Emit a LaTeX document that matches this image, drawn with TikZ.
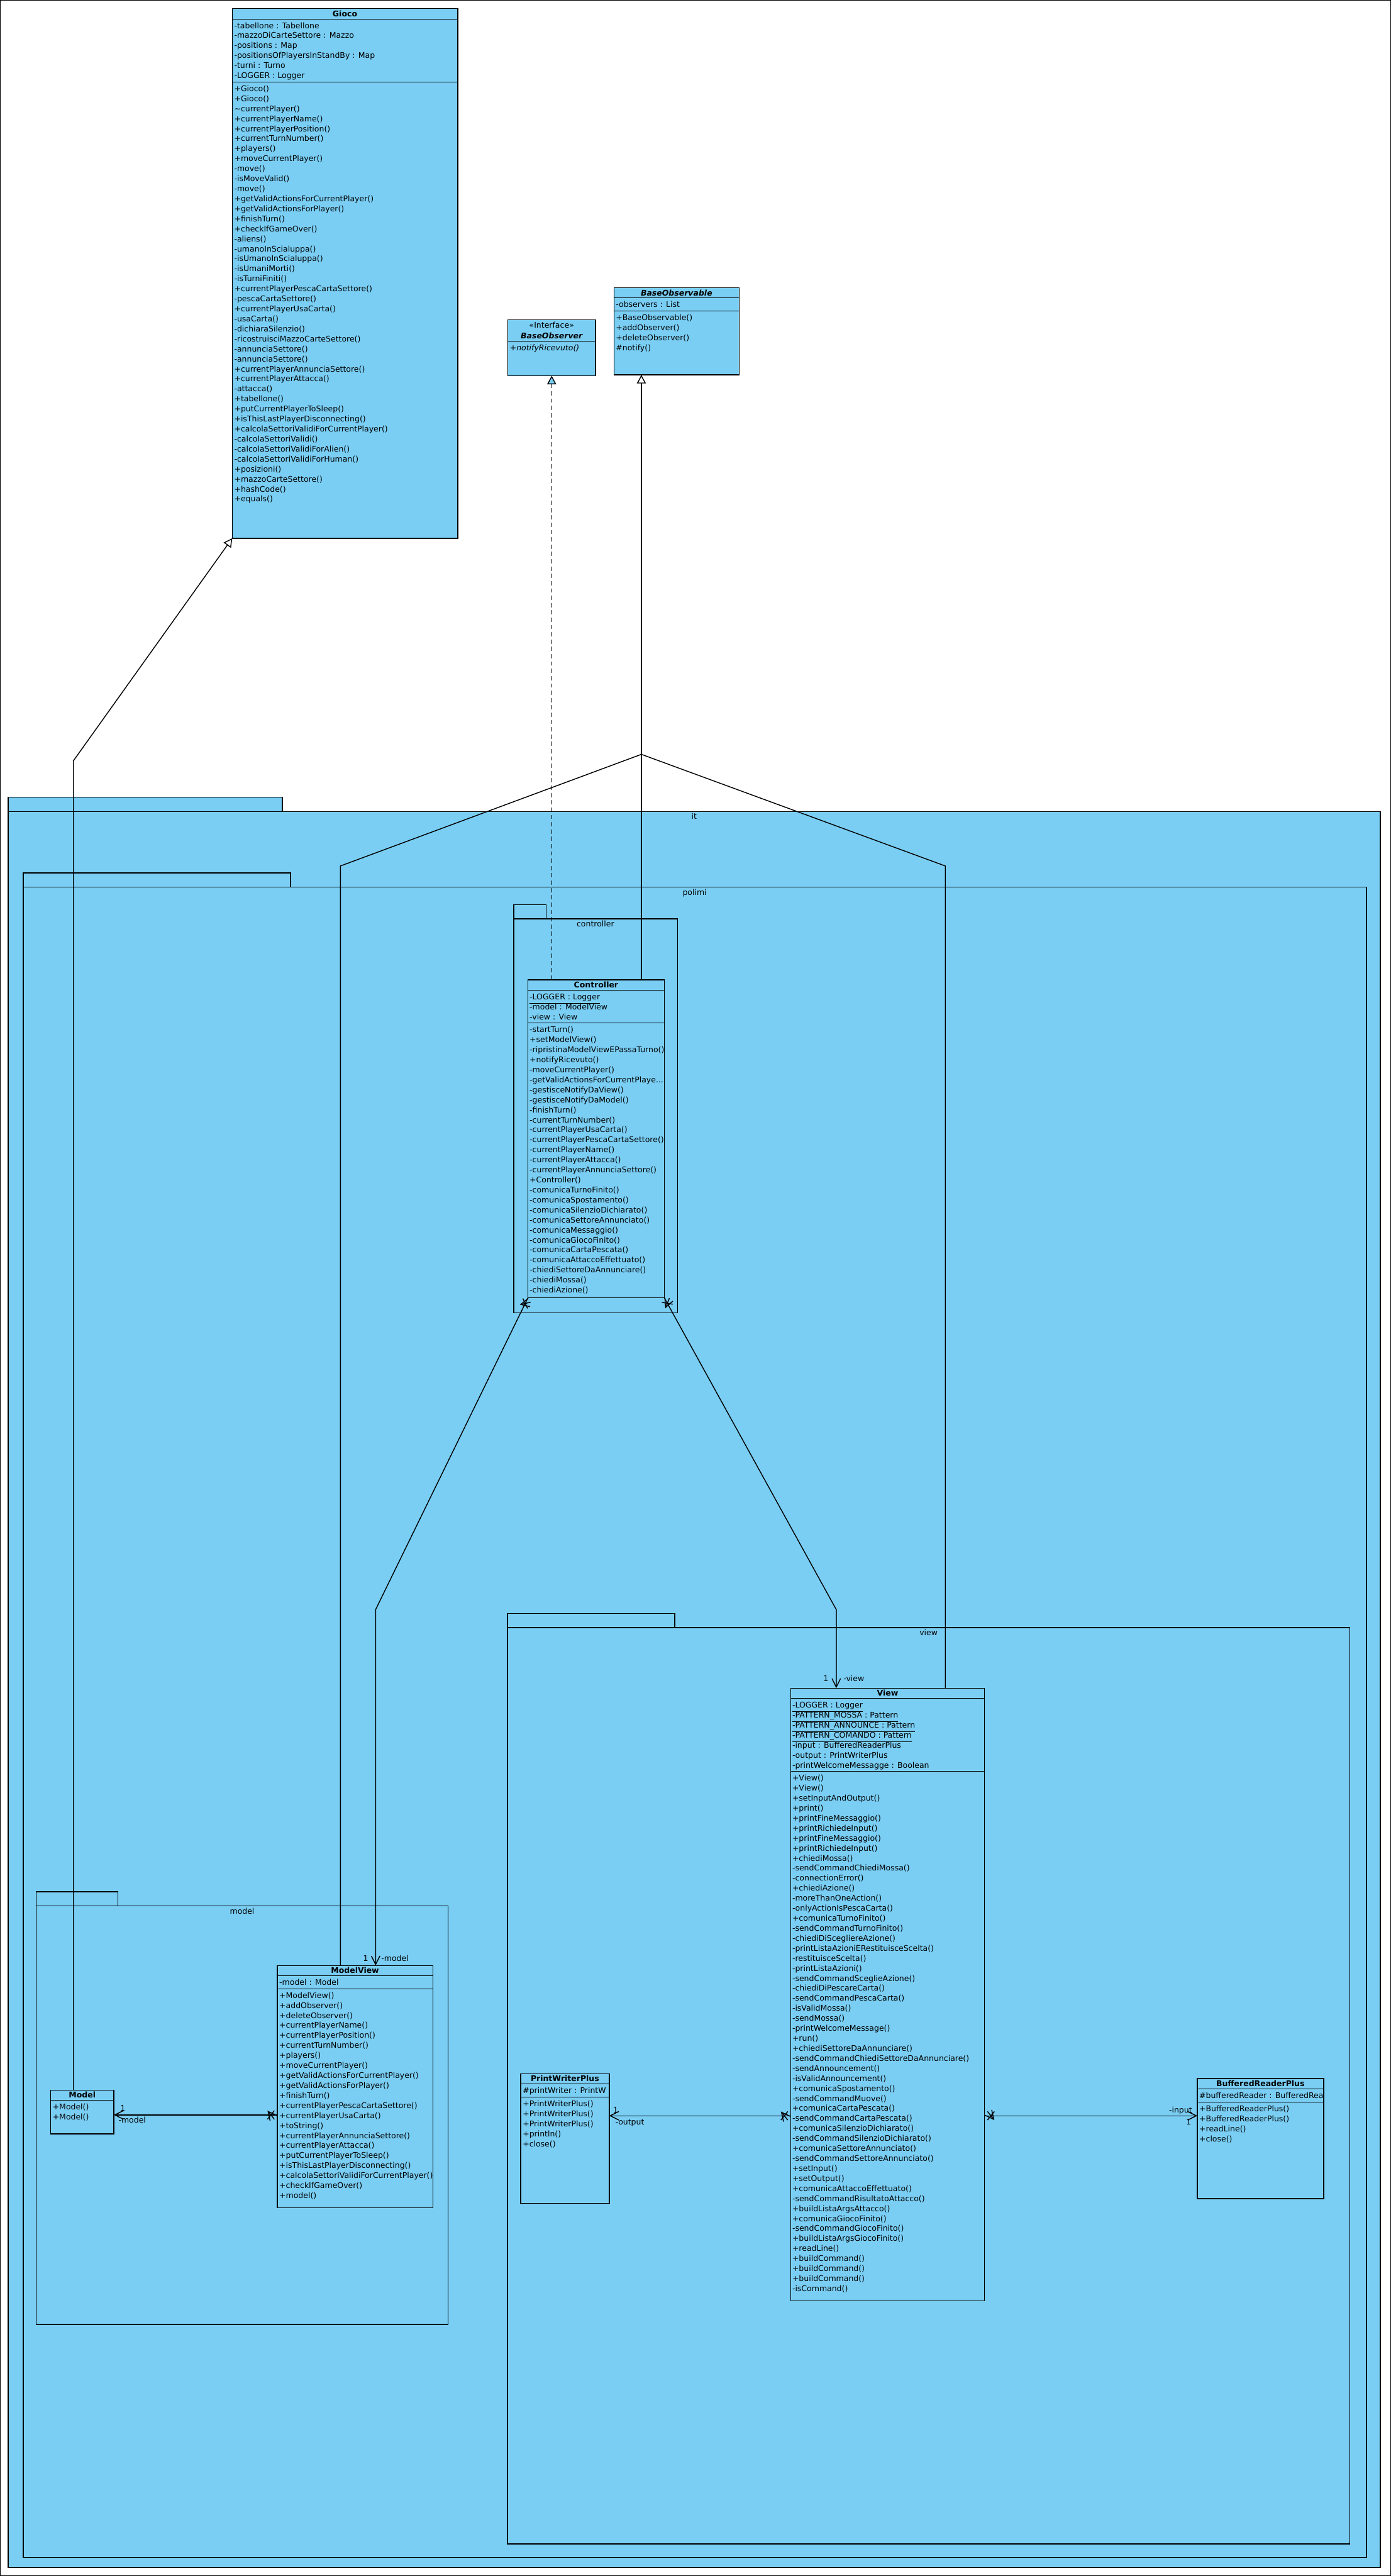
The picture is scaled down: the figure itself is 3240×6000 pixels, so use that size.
\documentclass[tikz,border=0pt]{standalone}
\usepackage{fontspec}
\setmainfont{DejaVu Sans}
\usetikzlibrary{arrows.meta,decorations.markings}

\definecolor{umlblue}{HTML}{7ACEF4}
\newcommand{\umlfont}{\fontsize{5.2}{6.63}\selectfont}
\newcommand{\umlbold}{\umlfont\bfseries}
\newcommand{\members}[1]{\begin{tabular}[t]{@{}l@{}}#1\end{tabular}}
\newcommand{\ulstatic}[1]{\smash{\underline{#1}}}

\tikzset{
  umlbox/.style={draw, fill=umlblue, line width=0.6pt, outer sep=0pt, inner sep=0pt, anchor=north west},
  package/.style={draw, fill=umlblue, line width=0.6pt},
  classname/.style={font=\umlbold, inner sep=0pt, anchor=base},
  member/.style={font=\umlfont, inner sep=0pt, anchor=base west},
  pkglabel/.style={font=\umlfont, inner sep=0pt, anchor=base},
  endlabel/.style={font=\umlfont, inner sep=0pt, anchor=base},
  navx/.style={postaction={decorate}, decoration={markings,
      mark=at position 0.15cm with {\draw[solid] (-0.08cm,-0.1cm) -- (0.08cm,0.1cm) (-0.08cm,0.1cm) -- (0.08cm,-0.1cm);}}},
  assoc/.style={line width=0.6pt, -{Straight Barb[length=0.2cm,width=0.2cm]}, navx},
  inherit/.style={line width=0.6pt, -{Triangle[length=0.2cm,width=0.21cm,fill=white]}},
  realize/.style={line width=0.6pt, dash pattern=on 0.1cm off 0.07cm, -{Triangle[length=0.2cm,width=0.21cm,fill=umlblue]}},
}

\begin{document}
\begin{tikzpicture}[x=0.01cm,y=-0.01cm]
    \useasboundingbox (0,0) rectangle (3240,6000);
    \draw[line width=0.5pt] (0,0) rectangle (3240,6000);

    % Pacchetti
    \draw[package] (19,1857) rectangle (658,1890);
    \draw[package] (19,1890) rectangle (3215,5980);
    \node[pkglabel] (it-label) at (1617,1908.5) {it};

    \draw[package] (54,2033) rectangle (677,2066);
    \draw[package] (54,2066) rectangle (3183,5957);
    \node[pkglabel] (polimi-label) at (1618,2084.5) {polimi};

    \draw[package] (1197,2107) rectangle (1272,2140);
    \draw[package] (1197,2140) rectangle (1578,3058);
    \node[pkglabel] (controller-label) at (1387,2158.5) {controller};

    \draw[package] (1182,3758) rectangle (1572,3791);
    \draw[package] (1182,3791) rectangle (3144,5925);
    \node[pkglabel] (view-label) at (2163,3809.5) {view};

    \draw[package] (84,4406) rectangle (275,4439);
    \draw[package] (84,4439) rectangle (1044,5414);
    \node[pkglabel] (model-label) at (564,4457.5) {model};

    % Classi (solo i contorni, servono per i collegamenti)
    \node[umlbox, minimum width=5.25cm, minimum height=12.33cm] (gioco) at (541,20) {};
    \node[umlbox, minimum width=2.04cm, minimum height=1.30cm] (observer) at (1183,745) {};
    \node[umlbox, minimum width=2.92cm, minimum height=2.03cm] (observable) at (1430,670) {};
    \node[umlbox, minimum width=3.17cm, minimum height=7.40cm] (controller) at (1230,2282) {};
    \node[umlbox, minimum width=4.51cm, minimum height=14.26cm] (view) at (1842,3932) {};
    \node[umlbox, minimum width=3.62cm, minimum height=5.64cm] (modelview) at (646,4578) {};
    \node[umlbox, minimum width=1.47cm, minimum height=1.02cm] (model) at (118,4868) {};
    \node[umlbox, minimum width=2.06cm, minimum height=3.02cm] (printwriter) at (1213,4830) {};
    \node[umlbox, minimum width=2.94cm, minimum height=2.80cm] (bufferedreader) at (2789,4841) {};

    % Realizzazione BaseObserver
    \draw[realize] (controller.north -| observer.south) -- (observer.south);

    % Generalizzazioni verso BaseObservable
    \coordinate (join) at (1494,1757);
    \coordinate (mvbend) at (793,2017);
    \coordinate (vbend) at (2202,2017);
    \draw[line width=0.6pt] (controller.north -| join) -- (join);
    \draw[line width=0.6pt] (modelview.north -| mvbend) -- (mvbend) -- (join);
    \draw[line width=0.6pt] (view.north -| vbend) -- (vbend) -- (join);
    \draw[inherit] (join) -- (join |- observable.south);

    % Model estende Gioco
    \coordinate (mbend) at (171,1772);
    \draw[inherit] (model.north -| mbend) -- (mbend) -- (gioco.south west);

    % Associazioni
    \coordinate (cmvbend) at (875,3749);
    \coordinate (cvbend) at (1948,3749);
    \coordinate (mmrow) at (0,4926);
    \coordinate (iorow) at (0,4928);
    \draw[assoc] (controller.south west) -- (cmvbend) -- (modelview.north -| cmvbend);
    \draw[assoc] (controller.south east) -- (cvbend) -- (view.north -| cvbend);
    \draw[assoc] (modelview.west |- mmrow) -- (model.east |- mmrow);
    \draw[assoc] (view.west |- iorow) -- (printwriter.east |- iorow);
    \draw[assoc] (view.east |- iorow) -- (bufferedreader.west |- iorow);

    \node[endlabel] (cmv-mult) at (852,4567.5) {1};
    \node[endlabel] (cmv-role) at (920,4567.5) {-model};
    \node[endlabel] (cv-mult) at (1924,3916.5) {1};
    \node[endlabel] (cv-role) at (1989,3916.5) {-view};
    \node[endlabel] (mm-mult) at (286,4916.5) {1};
    \node[endlabel] (mm-role) at (308,4944.5) {-model};
    \node[endlabel] (pw-mult) at (1434,4921.5) {1};
    \node[endlabel] (pw-role) at (1467,4948.5) {-output};
    \node[endlabel] (br-role) at (2750,4920.5) {-input};
    \node[endlabel] (br-mult) at (2769,4948.5) {1};

    % Gioco
    \draw (541,44) -- (1066,44);
    \draw (541,191) -- (1066,191);
    \node[classname] (gioco-name) at (803.5,38.5) {Gioco};
    \node[member] (gioco-attrs) at (545,66) {\members{-tabellone : Tabellone\\
        -mazzoDiCarteSettore : Mazzo\\
        -positions : Map\\
        -positionsOfPlayersInStandBy : Map\\
        -turni : Turno\\
        \ulstatic{-LOGGER : Logger}}};
    \node[member] (gioco-ops) at (545,213) {\members{+Gioco()\\
        +Gioco()\\
        \textasciitilde currentPlayer()\\
        +currentPlayerName()\\
        +currentPlayerPosition()\\
        +currentTurnNumber()\\
        +players()\\
        +moveCurrentPlayer()\\
        -move()\\
        -isMoveValid()\\
        -move()\\
        +getValidActionsForCurrentPlayer()\\
        +getValidActionsForPlayer()\\
        +finishTurn()\\
        +checkIfGameOver()\\
        -aliens()\\
        -umanoInScialuppa()\\
        -isUmanoInScialuppa()\\
        -isUmaniMorti()\\
        -isTurniFiniti()\\
        +currentPlayerPescaCartaSettore()\\
        -pescaCartaSettore()\\
        +currentPlayerUsaCarta()\\
        -usaCarta()\\
        -dichiaraSilenzio()\\
        -ricostruisciMazzoCarteSettore()\\
        -annunciaSettore()\\
        -annunciaSettore()\\
        +currentPlayerAnnunciaSettore()\\
        +currentPlayerAttacca()\\
        -attacca()\\
        +tabellone()\\
        +putCurrentPlayerToSleep()\\
        +isThisLastPlayerDisconnecting()\\
        +calcolaSettoriValidiForCurrentPlayer()\\
        -calcolaSettoriValidi()\\
        -calcolaSettoriValidiForAlien()\\
        -calcolaSettoriValidiForHuman()\\
        +posizioni()\\
        +mazzoCarteSettore()\\
        +hashCode()\\
        +equals()}};

    % BaseObserver
    \draw (1183,795) -- (1387,795);
    \node[pkglabel] (observer-stereo) at (1285,764.5) {<<Interface>>};
    \node[classname] (observer-name) at (1285,789.5) {\itshape BaseObserver};
    \node[member] (observer-ops) at (1187,817) {\members{\itshape +notifyRicevuto()}};

    % BaseObservable
    \draw (1430,694) -- (1722,694);
    \draw (1430,725) -- (1722,725);
    \node[classname] (observable-name) at (1576,688.5) {\itshape BaseObservable};
    \node[member] (observable-attrs) at (1434,716) {\members{-observers : List}};
    \node[member] (observable-ops) at (1434,747) {\members{+BaseObservable()\\
        +addObserver()\\
        +deleteObserver()\\
        \#notify()}};

    % Controller
    \draw (1230,2306) -- (1547,2306);
    \draw (1230,2383) -- (1547,2383);
    \node[classname] (controller-name) at (1388.5,2300.5) {Controller};
    \node[member] (controller-attrs) at (1233,2328) {\members{\ulstatic{-LOGGER : Logger}\\
        -model : ModelView\\
        -view : View}};
    \node[member] (controller-ops) at (1233,2405) {\members{-startTurn()\\
        +setModelView()\\
        -ripristinaModelViewEPassaTurno()\\
        +notifyRicevuto()\\
        -moveCurrentPlayer()\\
        -getValidActionsForCurrentPlaye...\\
        -gestisceNotifyDaView()\\
        -gestisceNotifyDaModel()\\
        -finishTurn()\\
        -currentTurnNumber()\\
        -currentPlayerUsaCarta()\\
        -currentPlayerPescaCartaSettore()\\
        -currentPlayerName()\\
        -currentPlayerAttacca()\\
        -currentPlayerAnnunciaSettore()\\
        +Controller()\\
        -comunicaTurnoFinito()\\
        -comunicaSpostamento()\\
        -comunicaSilenzioDichiarato()\\
        -comunicaSettoreAnnunciato()\\
        -comunicaMessaggio()\\
        -comunicaGiocoFinito()\\
        -comunicaCartaPescata()\\
        -comunicaAttaccoEffettuato()\\
        -chiediSettoreDaAnnunciare()\\
        -chiediMossa()\\
        -chiediAzione()}};

    % View
    \draw (1842,3956) -- (2293,3956);
    \draw (1842,4126) -- (2293,4126);
    \node[classname] (view-name) at (2067.5,3950.5) {View};
    \node[member] (view-attrs) at (1845,3978) {\members{\ulstatic{-LOGGER : Logger}\\
        \ulstatic{-PATTERN\_MOSSA : Pattern}\\
        \ulstatic{-PATTERN\_ANNOUNCE : Pattern}\\
        \ulstatic{-PATTERN\_COMANDO : Pattern}\\
        -input : BufferedReaderPlus\\
        -output : PrintWriterPlus\\
        -printWelcomeMessagge : Boolean}};
    \node[member] (view-ops) at (1845,4148) {\members{+View()\\
        +View()\\
        +setInputAndOutput()\\
        +print()\\
        +printFineMessaggio()\\
        +printRichiedeInput()\\
        +printFineMessaggio()\\
        +printRichiedeInput()\\
        +chiediMossa()\\
        -sendCommandChiediMossa()\\
        -connectionError()\\
        +chiediAzione()\\
        -moreThanOneAction()\\
        -onlyActionIsPescaCarta()\\
        +comunicaTurnoFinito()\\
        -sendCommandTurnoFinito()\\
        -chiediDiScegliereAzione()\\
        -printListaAzioniERestituisceScelta()\\
        -restituisceScelta()\\
        -printListaAzioni()\\
        -sendCommandSceglieAzione()\\
        -chiediDiPescareCarta()\\
        -sendCommandPescaCarta()\\
        -isValidMossa()\\
        -sendMossa()\\
        -printWelcomeMessage()\\
        +run()\\
        +chiediSettoreDaAnnunciare()\\
        -sendCommandChiediSettoreDaAnnunciare()\\
        -sendAnnouncement()\\
        -isValidAnnouncement()\\
        +comunicaSpostamento()\\
        -sendCommandMuove()\\
        +comunicaCartaPescata()\\
        -sendCommandCartaPescata()\\
        +comunicaSilenzioDichiarato()\\
        -sendCommandSilenzioDichiarato()\\
        +comunicaSettoreAnnunciato()\\
        -sendCommandSettoreAnnunciato()\\
        +setInput()\\
        +setOutput()\\
        +comunicaAttaccoEffettuato()\\
        -sendCommandRisultatoAttacco()\\
        +buildListaArgsAttacco()\\
        +comunicaGiocoFinito()\\
        -sendCommandGiocoFinito()\\
        +buildListaArgsGiocoFinito()\\
        +readLine()\\
        +buildCommand()\\
        +buildCommand()\\
        +buildCommand()\\
        -isCommand()}};

    % ModelView
    \draw (646,4602) -- (1008,4602);
    \draw (646,4633) -- (1008,4633);
    \node[classname] (modelview-name) at (827,4596.5) {ModelView};
    \node[member] (modelview-attrs) at (650,4624) {\members{-model : Model}};
    \node[member] (modelview-ops) at (650,4654) {\members{+ModelView()\\
        +addObserver()\\
        +deleteObserver()\\
        +currentPlayerName()\\
        +currentPlayerPosition()\\
        +currentTurnNumber()\\
        +players()\\
        +moveCurrentPlayer()\\
        +getValidActionsForCurrentPlayer()\\
        +getValidActionsForPlayer()\\
        +finishTurn()\\
        +currentPlayerPescaCartaSettore()\\
        +currentPlayerUsaCarta()\\
        +toString()\\
        +currentPlayerAnnunciaSettore()\\
        +currentPlayerAttacca()\\
        +putCurrentPlayerToSleep()\\
        +isThisLastPlayerDisconnecting()\\
        +calcolaSettoriValidiForCurrentPlayer()\\
        +checkIfGameOver()\\
        +model()}};

    % Model
    \draw (118,4892) -- (265,4892);
    \node[classname] (model-name) at (191.5,4886.5) {Model};
    \node[member] (model-ops) at (122,4914) {\members{+Model()\\
        +Model()}};

    % PrintWriterPlus
    \draw (1213,4854) -- (1419,4854);
    \draw (1213,4885) -- (1419,4885);
    \node[classname] (printwriter-name) at (1316,4848.5) {PrintWriterPlus};
    \node[member] (printwriter-attrs) at (1217,4876) {\members{\#printWriter : PrintW}};
    \node[member] (printwriter-ops) at (1217,4907) {\members{+PrintWriterPlus()\\
        +PrintWriterPlus()\\
        +PrintWriterPlus()\\
        +println()\\
        +close()}};

    % BufferedReaderPlus
    \draw (2789,4865) -- (3083,4865);
    \draw (2789,4896) -- (3083,4896);
    \node[classname] (bufferedreader-name) at (2936,4859.5) {BufferedReaderPlus};
    \node[member] (bufferedreader-attrs) at (2793,4887) {\members{\#bufferedReader : BufferedRea}};
    \node[member] (bufferedreader-ops) at (2793,4918) {\members{+BufferedReaderPlus()\\
        +BufferedReaderPlus()\\
        +readLine()\\
        +close()}};
\end{tikzpicture}
\end{document}
